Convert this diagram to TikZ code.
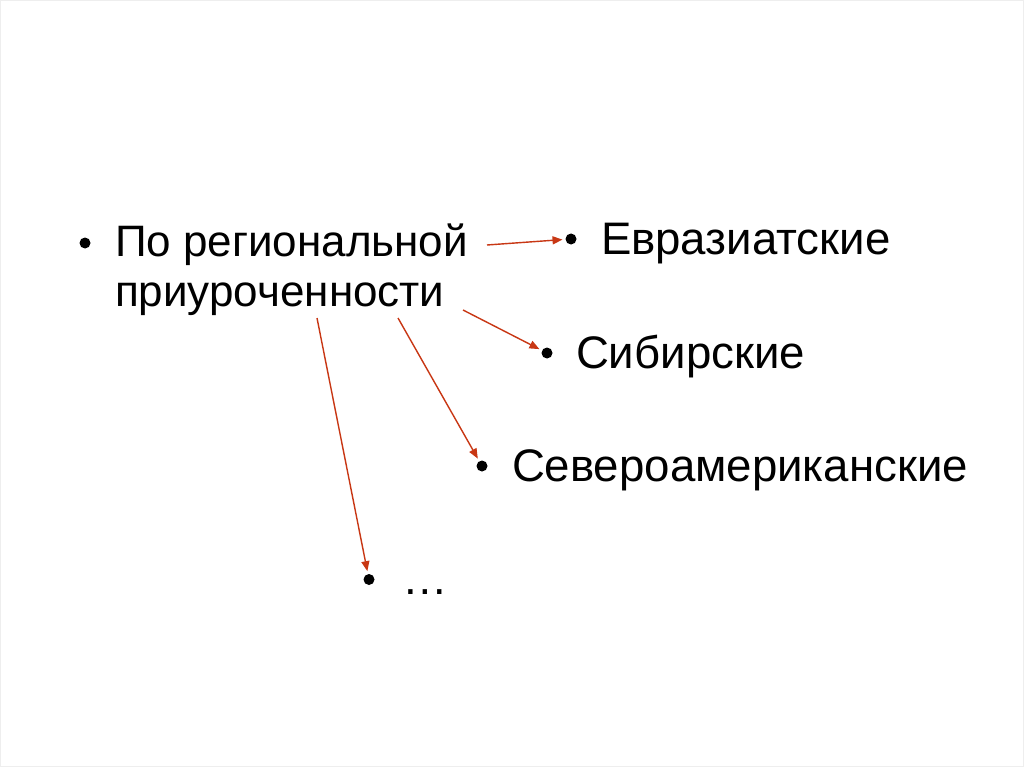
\documentclass[tikz,border=0pt]{standalone}
\usepackage{fontspec}
\setmainfont{Liberation Sans}
\usetikzlibrary{arrows.meta}
\definecolor{arrowred}{RGB}{200,55,20}
\definecolor{frame}{RGB}{238,238,238}
\begin{document}
\begin{tikzpicture}[x=1pt,y=-1pt,
  txt/.style={anchor=base west,inner sep=0pt,outer sep=0pt,font=\fontsize{44}{50}\selectfont},
  ttxt/.style={txt,font=\fontsize{45.6}{52}\selectfont},
  dot/.style={circle,fill=black,inner sep=0pt,minimum size=11pt,outer sep=1pt},
  link/.style={draw=arrowred,line width=1.4pt,-{Triangle[length=10pt,width=8pt]},shorten >=2pt}]
\fill[white] (0,0) rectangle (1024,767);
\draw[frame,line width=1pt] (0.5,0.5) rectangle (1023.5,766.5);
\useasboundingbox (0,0) rectangle (1024,767);
% source
\node[dot] (b0) at (85,243) {};
\node[txt] (src1) at (115,256) {По региональной};
\node[txt] (src2) at (115,306) {приуроченности};
% targets
\node[dot] (b1) at (571,239) {};
\node[ttxt] (t1) at (601,254.5) {Евразиатские};
\node[dot] (b2) at (547,353) {};
\node[ttxt] (t2) at (576,368.5) {Сибирские};
\node[dot] (b3) at (482,466) {};
\node[ttxt] (t3) at (512,481) {Североамериканские};
\node[dot] (b4) at (369,579.5) {};
\node[ttxt] (t4) at (402,594) {…};
% start points
\coordinate (s1) at (487,245);
\coordinate (s2) at (463,310);
\coordinate (s3) at (398,318);
\coordinate (s4) at (317,318);
% arrows
\draw[link] (s1) -- (b1);
\draw[link] (s2) -- (b2);
\draw[link] (s3) -- (b3);
\draw[link] (s4) -- (b4);
\end{tikzpicture}
\end{document}
